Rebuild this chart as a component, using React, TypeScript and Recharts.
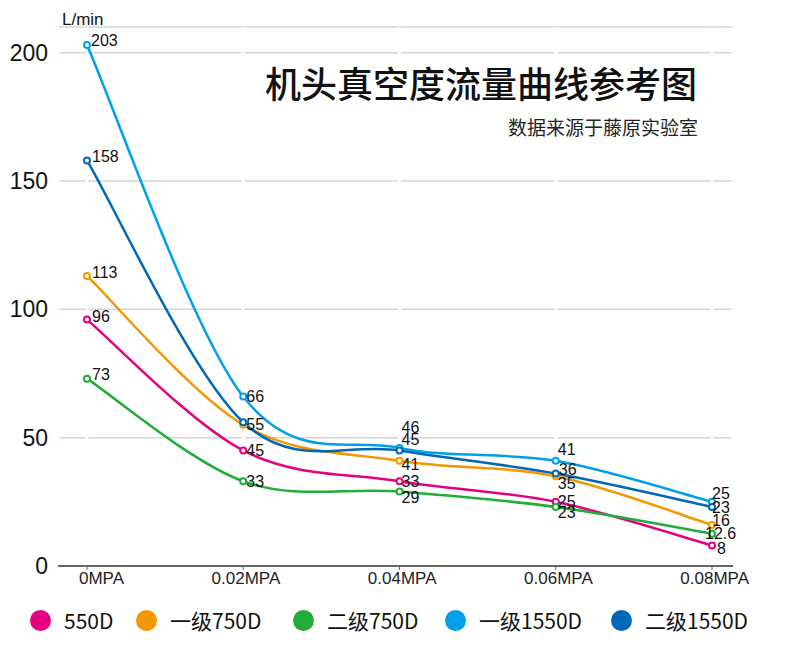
import React from "react";
import { LineChart, Line, XAxis, YAxis, CartesianGrid, LabelList } from "recharts";

const categories = ["0MPA", "0.02MPA", "0.04MPA", "0.06MPA", "0.08MPA"];
const seriesNames = ["550D", "一级750D", "二级750D", "一级1550D", "二级1550D"];
const values550D = [96, 45, 33, 25, 8];
const values750D1 = [113, 55, 41, 35, 16];
const values750D2 = [73, 33, 29, 23, 12.6];
const values1550D1 = [203, 66, 46, 41, 25];
const values1550D2 = [158, 56, 45, 36, 23];
const yTicks = [0, 50, 100, 150, 200];

const seriesValues = [values550D, values750D1, values750D2, values1550D1, values1550D2];
const colors = ["#e4007f", "#f39800", "#22ac38", "#00a0e9", "#0068b7"];

// label nudges [dx, dy] per series / point; null = label hidden (overlaps)
const labelNudge: ([number, number] | null)[][] = [
  [[5, -3], [3, 0], [2, 0], [2, 0], [5, 3]],
  [[5, -3], [3, 0], [2, 4], [2, 7], [0, -4]],
  [[5, -4], [3, 0], [2, 6], [2, 6], [-7, 0]],
  [[4, -4], [3, 0], [2, -20], [2, -11], [0, -8]],
  [[5, -4], null, [2, -11], [3, -4], [0, 1]],
];

const legendLeft = [30, 136, 293, 445, 611];

const data = categories.map((name, i) => {
  const row: Record<string, string | number> = { name };
  seriesValues.forEach((vals, s) => {
    row["s" + s] = vals[i];
  });
  return row;
});

// catmull-rom style smoothing (passes through every point)
function smoothCurve(context: any) {
  let xs: number[] = [];
  let ys: number[] = [];
  return {
    areaStart() {},
    areaEnd() {},
    lineStart() {
      xs = [];
      ys = [];
    },
    point(x: number, y: number) {
      xs.push(+x);
      ys.push(+y);
    },
    lineEnd() {
      const n = xs.length;
      if (!n) return;
      context.moveTo(xs[0], ys[0]);
      const k = 1 / 6;
      for (let i = 0; i < n - 1; i++) {
        const a = Math.max(i - 1, 0);
        const d = Math.min(i + 2, n - 1);
        context.bezierCurveTo(
          xs[i] + (xs[i + 1] - xs[a]) * k,
          ys[i] + (ys[i + 1] - ys[a]) * k,
          xs[i + 1] - (xs[d] - xs[i]) * k,
          ys[i + 1] - (ys[d] - ys[i]) * k,
          xs[i + 1],
          ys[i + 1]
        );
      }
    },
  };
}

const makeLabel = (s: number) => (props: any) => {
  const { x, y, value, index } = props;
  const nudge = labelNudge[s][index];
  if (!nudge) return null;
  return (
    <text
      x={x + nudge[0]}
      y={y + nudge[1]}
      textAnchor="start"
      dominantBaseline="central"
      fontSize={16}
      fontFamily="Liberation Sans, Arial, sans-serif"
      fill="#111"
    >
      {value}
    </text>
  );
};

const XTick = (props: any) => {
  const { x, y, payload } = props;
  return (
    <text
      x={x + 37}
      y={y}
      dy="0.71em"
      textAnchor="end"
      fontSize={17}
      fontFamily="Liberation Sans, Arial, sans-serif"
      fill="#222"
    >
      {payload.value}
    </text>
  );
};

export default function App() {
  return (
    <div
      style={{
        position: "absolute",
        left: 0,
        top: 0,
        width: 790,
        height: 650,
        background: "#fff",
        overflow: "hidden",
      }}
    >
      <LineChart width={790} height={600} data={data} margin={{ top: 27, right: 57, left: 0, bottom: 0 }}>
        <CartesianGrid vertical={false} stroke="#d4d4d4" strokeWidth={1.5} />
        <CartesianGrid horizontal={false} stroke="#fff" strokeWidth={3} />
        <XAxis
          dataKey="name"
          height={34}
          padding={{ left: 29, right: 21 }}
          axisLine={{ stroke: "#666", strokeWidth: 2 }}
          tickLine={{ stroke: "#666", strokeWidth: 1 }}
          tickSize={4}
          tickMargin={2}
          tick={<XTick />}
          interval={0}
        />
        <YAxis
          width={58}
          domain={[0, 210]}
          ticks={yTicks}
          axisLine={false}
          tickLine={false}
          tickSize={0}
          tickMargin={10}
          tick={{ fontSize: 23, fill: "#111", fontFamily: "Liberation Sans, Arial, sans-serif" }}
        />
        {seriesValues.map((_, s) => (
          <Line
            key={s}
            dataKey={"s" + s}
            name={seriesNames[s]}
            type={smoothCurve as any}
            stroke={colors[s]}
            strokeWidth={2.5}
            dot={{ r: 3, stroke: colors[s], strokeWidth: 2, fill: "#fff" }}
            activeDot={false}
            isAnimationActive={false}
          >
            <LabelList dataKey={"s" + s} content={makeLabel(s)} />
          </Line>
        ))}
      </LineChart>

      <div
        style={{
          position: "absolute",
          left: 62,
          top: 10,
          fontSize: 17,
          lineHeight: "20px",
          fontFamily: "Liberation Sans, Arial, sans-serif",
          color: "#111",
        }}
      >
        L/min
      </div>
      <div
        style={{
          position: "absolute",
          right: 93,
          top: 62,
          fontSize: 36,
          lineHeight: "40px",
          fontFamily: "Noto Sans CJK SC, sans-serif",
          fontWeight: 500,
          color: "#111",
          whiteSpace: "nowrap",
        }}
      >
        机头真空度流量曲线参考图
      </div>
      <div
        style={{
          position: "absolute",
          right: 92,
          top: 115,
          fontSize: 19,
          lineHeight: "24px",
          fontFamily: "Noto Sans CJK SC, sans-serif",
          color: "#222",
          whiteSpace: "nowrap",
        }}
      >
        数据来源于藤原实验室
      </div>

      {seriesNames.map((n, s) => (
        <div
          key={n}
          style={{
            position: "absolute",
            left: legendLeft[s],
            top: 608,
            height: 24,
            display: "flex",
            alignItems: "center",
            fontFamily: "Noto Sans CJK SC, sans-serif",
            fontSize: 21,
            color: "#111",
            whiteSpace: "nowrap",
          }}
        >
          <span
            style={{
              display: "inline-block",
              width: 21,
              height: 21,
              borderRadius: "50%",
              background: colors[s],
              marginRight: 13,
            }}
          />
          {n}
        </div>
      ))}
    </div>
  );
}
